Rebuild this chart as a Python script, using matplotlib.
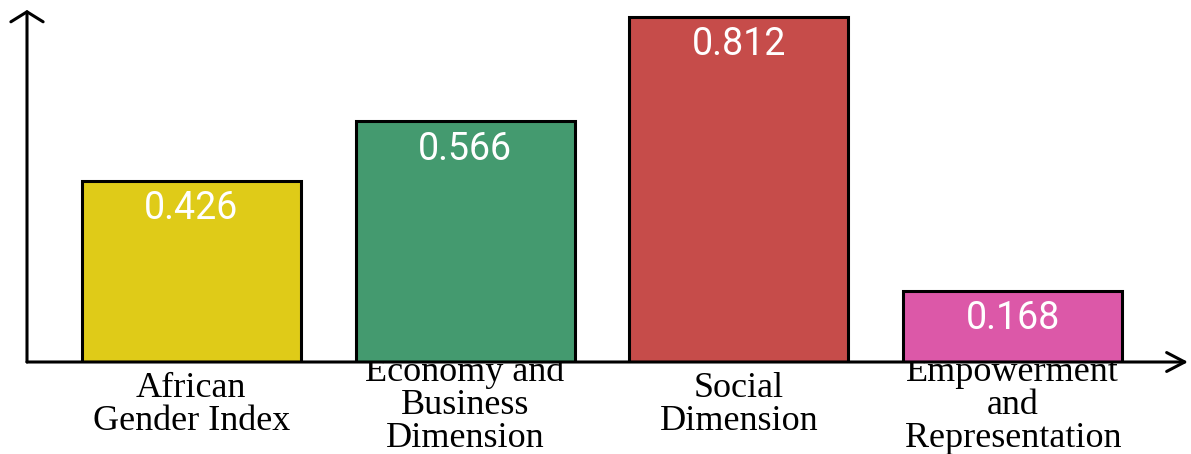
import matplotlib.pyplot as plt

categories = [
    "African\nGender Index",
    "Economy and\nBusiness\nDimension",
    "Social\nDimension",
    "Empowerment\nand\nRepresentation",
]
values = [0.426, 0.566, 0.812, 0.168]
colors = ["#DFCB18", "#449A6F", "#C64C4A", "#DC58A8"]

W, H = 1191, 454
fig = plt.figure(figsize=(W / 100, H / 100), dpi=100)
# axes box: left edge at the y-axis line, bottom at the baseline
ax = fig.add_axes([27 / W, (H - 362) / H, (1188 - 27) / W, (362 - 10) / H])

x = list(range(len(values)))
bars = ax.bar(x, values, width=0.8, color=colors, edgecolor="black", linewidth=2.2, zorder=2)

ax.set_xlim(-0.6, 3.64)
ax.set_ylim(0, 0.828)

for b, v in zip(bars, values):
    ax.annotate(f"{v:.3f}", (b.get_x() + b.get_width() / 2, v),
                xytext=(0, -20), textcoords="offset points",
                ha="center", va="center", color="white",
                fontsize=27, family="Roboto", zorder=3)

for s in ax.spines.values():
    s.set_visible(False)
ax.set_yticks([])
ax.set_xticks(x)
ax.set_xticklabels(categories, family="Liberation Serif", fontsize=26, linespacing=1.0)
ax.tick_params(axis="x", length=0, pad=31)
for lab in ax.get_xticklabels():
    lab.set_va("center")

# arrowed axes
ax.annotate("", xy=(0, 1.0), xytext=(0, 0), xycoords="axes fraction",
            arrowprops=dict(arrowstyle="->,head_length=0.36,head_width=0.58", lw=2.2,
                            color="black", shrinkA=0, shrinkB=0, mutation_scale=20),
            annotation_clip=False)
ax.annotate("", xy=(1.0, 0), xytext=(0, 0), xycoords="axes fraction",
            arrowprops=dict(arrowstyle="->,head_length=0.65,head_width=0.34", lw=2.2,
                            color="black", shrinkA=0, shrinkB=0, mutation_scale=20),
            annotation_clip=False)

fig.savefig("out.png", dpi=100)
